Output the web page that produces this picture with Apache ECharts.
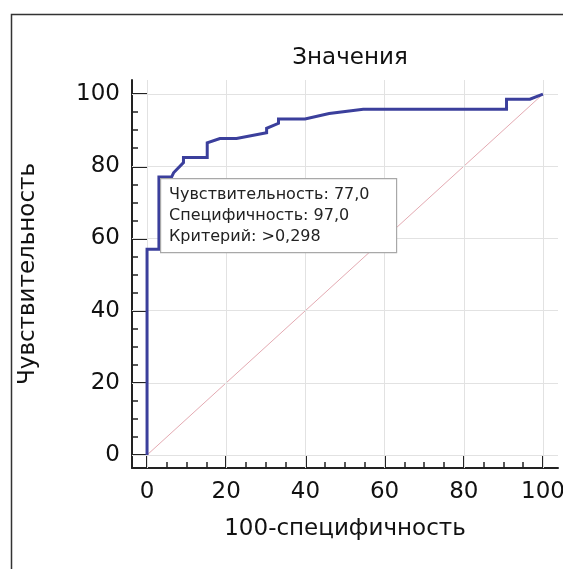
<!DOCTYPE html>
<html>
<head>
<meta charset="utf-8">
<script src="https://cdn.jsdelivr.net/npm/echarts@6/dist/echarts.min.js"></script>
<style>html,body{margin:0;padding:0;background:#fff}#c{width:563px;height:569px}</style>
</head>
<body>
<div id="c"></div>
<script>
// ROC curve points (x = 100 - specificity, y = sensitivity)
var rocX = [0, 0, 3, 3, 6.2, 6.7, 9.2, 9.2, 15.2, 15.2, 18.4, 22.6, 30.2, 30.2, 33.2, 33.2, 39.9, 46, 54.6, 90.8, 90.8, 96.7, 100];
var rocY = [0, 57, 57, 77, 77, 78.2, 81, 82.4, 82.4, 86.5, 87.7, 87.7, 89.3, 90.5, 91.9, 93.1, 93.1, 94.6, 95.8, 95.8, 98.6, 98.6, 100];
// reference diagonal
var diagX = [0, 100];
var diagY = [0, 100];
// ticks
var majorTicks = [0, 20, 40, 60, 80, 100];
var minorTicks = [5, 10, 15, 25, 30, 35, 45, 50, 55, 65, 70, 75, 85, 90, 95];
// texts
var titleText = 'Значения';
var xName = '100-специфичность';
var yName = 'Чувствительность';
var infoLines = ['Чувствительность: 77,0', 'Специфичность: 97,0', 'Критерий: >0,298'];

var FONT = '"DejaVu Sans", Verdana, sans-serif';
var rocData = rocX.map(function (x, i) { return [x, rocY[i]]; });
var diagData = diagX.map(function (x, i) { return [x, diagY[i]]; });
var gridMarks = majorTicks.map(function (v) { return { xAxis: v }; })
  .concat(majorTicks.map(function (v) { return { yAxis: v }; }));

var chart = echarts.init(document.getElementById('c'), null, { renderer: 'canvas' });
var axisCommon = {
  type: 'value',
  splitLine: { show: false }
};
chart.setOption({
  animation: false,
  backgroundColor: '#fff',
  title: {
    text: titleText, left: 345, top: 42, textAlign: 'center',
    textStyle: { fontFamily: FONT, fontSize: 23, fontWeight: 'normal', color: '#111' }
  },
  grid: { left: 132, right: 5, top: 80, bottom: 101, containLabel: false, outerBoundsMode: 'none' },
  xAxis: [
    Object.assign({}, axisCommon, {
      min: -3.8, max: 103.8, position: 'bottom',
      name: xName, nameLocation: 'middle', nameGap: 50,
      nameTextStyle: { fontFamily: FONT, fontSize: 23, color: '#111' },
      axisLine: { show: true, onZero: false, lineStyle: { color: '#222', width: 2 } },
      axisTick: { show: true, inside: true, length: 13, customValues: majorTicks, lineStyle: { color: '#222', width: 2 } },
      axisLabel: { show: true, customValues: majorTicks, margin: 13, fontFamily: FONT, fontSize: 23, color: '#111', hideOverlap: false }
    }),
    Object.assign({}, axisCommon, {
      min: -3.8, max: 103.8, position: 'bottom',
      axisLine: { show: false, onZero: false },
      axisTick: { show: true, inside: true, length: 6, customValues: minorTicks, lineStyle: { color: '#222', width: 1.5 } },
      axisLabel: { show: false }
    })
  ],
  yAxis: [
    Object.assign({}, axisCommon, {
      min: -3.6, max: 103.9, position: 'left',
      name: yName, nameLocation: 'middle', nameGap: 92, nameRotate: 90,
      nameTextStyle: { fontFamily: FONT, fontSize: 23, color: '#111' },
      axisLine: { show: true, onZero: false, lineStyle: { color: '#222', width: 2 } },
      axisTick: { show: true, inside: true, length: 15, customValues: majorTicks, lineStyle: { color: '#222', width: 2 } },
      axisLabel: { show: true, customValues: majorTicks, margin: 12, fontFamily: FONT, fontSize: 23, color: '#111' }
    }),
    Object.assign({}, axisCommon, {
      min: -3.6, max: 103.9, position: 'left',
      axisLine: { show: false, onZero: false },
      axisTick: { show: true, inside: true, length: 6, customValues: minorTicks, lineStyle: { color: '#222', width: 1.5 } },
      axisLabel: { show: false }
    })
  ],
  series: [
    {
      type: 'line', xAxisIndex: 0, yAxisIndex: 0, data: diagData, z: 2,
      symbol: 'none', silent: true,
      lineStyle: { color: '#e4aab2', width: 1 },
      markLine: {
        silent: true, symbol: ['none', 'none'], label: { show: false },
        lineStyle: { color: '#e2e2e2', width: 1, type: 'solid' },
        emphasis: { disabled: true },
        data: gridMarks
      }
    },
    {
      type: 'line', xAxisIndex: 0, yAxisIndex: 0, data: rocData, z: 5,
      symbol: 'none', silent: true,
      lineStyle: { color: '#3b3f9c', width: 3, join: 'miter' }
    }
  ],
  graphic: [
    {
      type: 'rect', left: 9, top: 12, silent: true, z: 100,
      shape: { width: 600, height: 600 },
      style: { fill: 'none', stroke: '#333', lineWidth: 1.5 }
    },
    {
      type: 'rect', left: 160, top: 178, z: 110, silent: true,
      shape: { width: 236, height: 74 },
      style: { fill: '#fff', stroke: '#a8a8a8', lineWidth: 1.2 }
    },
    {
      type: 'text', left: 169, top: 184, z: 111, silent: true,
      style: {
        text: infoLines.join('\n'), fontFamily: FONT, fontSize: 16, lineHeight: 21,
        fill: '#222'
      }
    }
  ]
});
</script>
</body>
</html>
